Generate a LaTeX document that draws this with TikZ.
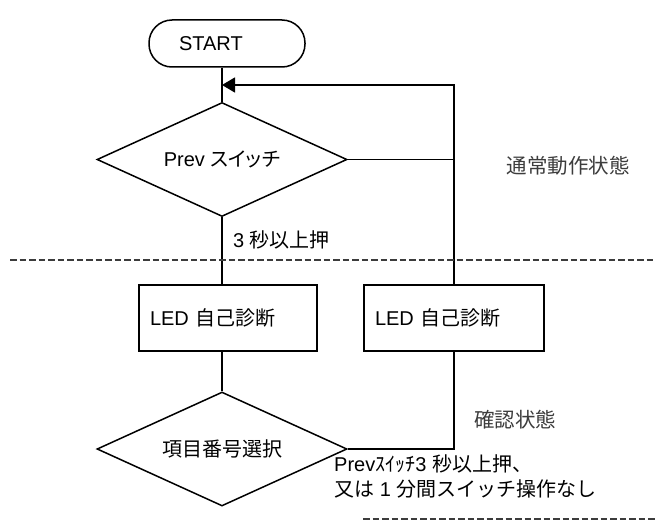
\documentclass[tikz,border=0pt]{standalone}
\usepackage{fontspec}
\setmainfont{Liberation Sans}
\newfontfamily\jp{Noto Sans CJK JP}
\newfontfamily\jpp[RawFeature=+palt]{Noto Sans CJK JP}
\usetikzlibrary{shapes.geometric,arrows.meta}
\definecolor{lbl}{RGB}{60,60,60}
\begin{document}
\begin{tikzpicture}[x=1pt,y=-1pt,
 every node/.style={font=\fontsize{20}{25}\selectfont},
 line/.style={line width=1.5pt},
 term/.style={draw,line width=1.5pt,rounded corners=23pt,minimum width=156pt,minimum height=47pt,inner xsep=0pt,text width=96pt,align=left},
 dec/.style={draw,line width=1.5pt,diamond,shape aspect=2.2,minimum width=250pt,minimum height=114pt,inner sep=0pt},
 proc/.style={draw,line width=1.5pt,rectangle,minimum height=66pt,inner xsep=11pt,align=left},
 sep/.style={line width=1.5pt,dash pattern=on 6.5pt off 3pt,draw=lbl},
 state/.style={text=lbl,inner sep=0pt,font=\fontsize{20.5}{25}\selectfont},
 note/.style={inner sep=0pt,anchor=west,align=left}]
\useasboundingbox (0,0) rectangle (656,527);
\node[term] (start) at (227,43.5) {START};
\node[dec] (d1) at (222,159.5) {Prev {\jpp スイッチ}};
\node[proc,text width=156pt] (led1) at (228,318) {LED {\jp 自己診断}};
\node[proc,text width=158pt] (led2) at (454,318) {LED {\jp 自己診断}};
\node[dec] (d2) at (222,449) {{\jp 項目番号選択}};
\coordinate (j) at (223,85);
\draw[line] (d1.north |- start.south) -- (d1.north);
\draw[line,-{Triangle[length=13pt,width=15pt]}] (led2.north) -- (led2.north |- j) -- (d1.north |- j);
\draw[line] (d1.east) -- (d1.east -| led2.north);
\draw[line] (d1.south) -- (d1.south |- led1.north);
\draw[line] (led1.south -| d2.north) -- (d2.north);
\draw[line] (d2.east) -- (d2.east -| led2.south) -- (led2.south);
\node[note] (l3) at (233,240) {3 {\jp 秒以上押}};
\node[state] (s1) at (568,166) {{\jp 通常動作状態}};
\node[state] (s2) at (515,420) {{\jp 確認状態}};
\node[note] (l4) at (334,476) {Prev{\jp ｽｲｯﾁ}3 {\jp 秒以上押、}\\{\jp 又は} 1 {\jp 分間スイッチ操作なし}};
\draw[sep] (10,260) -- (656,260);
\draw[sep] (363,519) -- (656,519);
\end{tikzpicture}
\end{document}
